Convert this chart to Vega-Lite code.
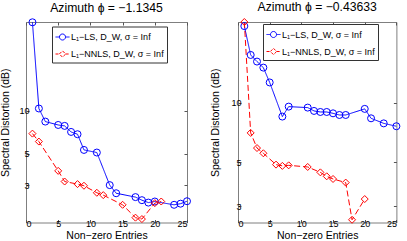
{
  "$schema": "https://vega.github.io/schema/vega-lite/v6.json",
  "autosize": {"type": "pad"},
  "padding": {"left": 0, "top": 0, "right": 0, "bottom": 0},
  "bounds": "flush",
  "spacing": 51,
  "config": {
    "font": "Liberation Sans",
    "view": {"stroke": "#7f7f7f", "strokeWidth": 1},
    "axis": {"grid": false, "domain": false, "tickColor": "#555", "tickSize": -3, "labelFontSize": 9, "labelColor": "#000", "titleFontSize": 10.5, "titleFontWeight": "normal", "titleColor": "#000", "labelPadding": 0},
    "title": {"fontSize": 12.2, "fontWeight": "normal", "color": "#000", "offset": 3},
    "legend": {"orient": "none", "title": null, "padding": 3, "strokeColor": "#333", "fillColor": "white", "symbolSize": 196, "symbolStrokeWidth": 1, "labelFontSize": 9, "labelOffset": 1, "rowPadding": 4, "symbolFillColor": "transparent"}
  },
  "datasets": {
    "left": [
      {"n": 1, "sd": 42.1, "s": "L₁−LS, D_W, σ = Inf"},
      {"n": 2, "sd": 10.4, "s": "L₁−LS, D_W, σ = Inf"},
      {"n": 3, "sd": 8.41, "s": "L₁−LS, D_W, σ = Inf"},
      {"n": 5, "sd": 7.96, "s": "L₁−LS, D_W, σ = Inf"},
      {"n": 6, "sd": 7.84, "s": "L₁−LS, D_W, σ = Inf"},
      {"n": 7, "sd": 7.11, "s": "L₁−LS, D_W, σ = Inf"},
      {"n": 8, "sd": 6.85, "s": "L₁−LS, D_W, σ = Inf"},
      {"n": 9, "sd": 5.31, "s": "L₁−LS, D_W, σ = Inf"},
      {"n": 11, "sd": 5.09, "s": "L₁−LS, D_W, σ = Inf"},
      {"n": 13, "sd": 3.0, "s": "L₁−LS, D_W, σ = Inf"},
      {"n": 14, "sd": 2.63, "s": "L₁−LS, D_W, σ = Inf"},
      {"n": 17, "sd": 2.47, "s": "L₁−LS, D_W, σ = Inf"},
      {"n": 18, "sd": 2.35, "s": "L₁−LS, D_W, σ = Inf"},
      {"n": 19, "sd": 2.26, "s": "L₁−LS, D_W, σ = Inf"},
      {"n": 20, "sd": 2.30, "s": "L₁−LS, D_W, σ = Inf"},
      {"n": 23, "sd": 2.18, "s": "L₁−LS, D_W, σ = Inf"},
      {"n": 24, "sd": 2.22, "s": "L₁−LS, D_W, σ = Inf"},
      {"n": 25, "sd": 2.31, "s": "L₁−LS, D_W, σ = Inf"},
      {"n": 1, "sd": 6.92, "s": "L₁−NNLS, D_W, σ = Inf"},
      {"n": 2, "sd": 6.08, "s": "L₁−NNLS, D_W, σ = Inf"},
      {"n": 5, "sd": 3.78, "s": "L₁−NNLS, D_W, σ = Inf"},
      {"n": 6, "sd": 3.18, "s": "L₁−NNLS, D_W, σ = Inf"},
      {"n": 8, "sd": 3.05, "s": "L₁−NNLS, D_W, σ = Inf"},
      {"n": 9, "sd": 2.97, "s": "L₁−NNLS, D_W, σ = Inf"},
      {"n": 11, "sd": 2.65, "s": "L₁−NNLS, D_W, σ = Inf"},
      {"n": 12, "sd": 2.55, "s": "L₁−NNLS, D_W, σ = Inf"},
      {"n": 15, "sd": 2.18, "s": "L₁−NNLS, D_W, σ = Inf"},
      {"n": 17, "sd": 1.77, "s": "L₁−NNLS, D_W, σ = Inf"},
      {"n": 18, "sd": 1.73, "s": "L₁−NNLS, D_W, σ = Inf"},
      {"n": 20, "sd": 2.24, "s": "L₁−NNLS, D_W, σ = Inf"},
      {"n": 21, "sd": 2.30, "s": "L₁−NNLS, D_W, σ = Inf"}
    ],
    "right": [
      {"n": 1, "sd": 24.5, "s": "L₁−LS, D_W, σ = Inf"},
      {"n": 2, "sd": 17.5, "s": "L₁−LS, D_W, σ = Inf"},
      {"n": 3, "sd": 16.2, "s": "L₁−LS, D_W, σ = Inf"},
      {"n": 4, "sd": 15.1, "s": "L₁−LS, D_W, σ = Inf"},
      {"n": 5, "sd": 12.7, "s": "L₁−LS, D_W, σ = Inf"},
      {"n": 7, "sd": 8.53, "s": "L₁−LS, D_W, σ = Inf"},
      {"n": 8, "sd": 9.58, "s": "L₁−LS, D_W, σ = Inf"},
      {"n": 11, "sd": 9.47, "s": "L₁−LS, D_W, σ = Inf"},
      {"n": 12, "sd": 9.11, "s": "L₁−LS, D_W, σ = Inf"},
      {"n": 13, "sd": 9.0, "s": "L₁−LS, D_W, σ = Inf"},
      {"n": 14, "sd": 9.0, "s": "L₁−LS, D_W, σ = Inf"},
      {"n": 15, "sd": 8.86, "s": "L₁−LS, D_W, σ = Inf"},
      {"n": 16, "sd": 8.69, "s": "L₁−LS, D_W, σ = Inf"},
      {"n": 17, "sd": 8.69, "s": "L₁−LS, D_W, σ = Inf"},
      {"n": 20, "sd": 9.33, "s": "L₁−LS, D_W, σ = Inf"},
      {"n": 21, "sd": 8.36, "s": "L₁−LS, D_W, σ = Inf"},
      {"n": 23, "sd": 7.88, "s": "L₁−LS, D_W, σ = Inf"},
      {"n": 25, "sd": 7.62, "s": "L₁−LS, D_W, σ = Inf"},
      {"n": 1, "sd": 25.7, "s": "L₁−NNLS, D_W, σ = Inf"},
      {"n": 2, "sd": 7.05, "s": "L₁−NNLS, D_W, σ = Inf"},
      {"n": 3, "sd": 5.91, "s": "L₁−NNLS, D_W, σ = Inf"},
      {"n": 4, "sd": 5.56, "s": "L₁−NNLS, D_W, σ = Inf"},
      {"n": 6, "sd": 4.87, "s": "L₁−NNLS, D_W, σ = Inf"},
      {"n": 7, "sd": 4.80, "s": "L₁−NNLS, D_W, σ = Inf"},
      {"n": 8, "sd": 4.83, "s": "L₁−NNLS, D_W, σ = Inf"},
      {"n": 11, "sd": 4.74, "s": "L₁−NNLS, D_W, σ = Inf"},
      {"n": 13, "sd": 4.45, "s": "L₁−NNLS, D_W, σ = Inf"},
      {"n": 14, "sd": 4.25, "s": "L₁−NNLS, D_W, σ = Inf"},
      {"n": 15, "sd": 4.12, "s": "L₁−NNLS, D_W, σ = Inf"},
      {"n": 17, "sd": 3.95, "s": "L₁−NNLS, D_W, σ = Inf"},
      {"n": 18, "sd": 2.56, "s": "L₁−NNLS, D_W, σ = Inf"},
      {"n": 20, "sd": 3.26, "s": "L₁−NNLS, D_W, σ = Inf"}
    ]
  },
  "resolve": {"scale": {"color": "independent"}, "legend": {"color": "independent"}},
  "hconcat": [
    {
      "title": "Azimuth ϕ = −1.1345",
      "width": 161,
      "height": 200.5,
      "data": {"name": "left"},
      "resolve": {"axis": {"x": "independent", "y": "independent"}},
      "layer": [
        {
          "mark": {"type": "line", "strokeWidth": 1},
          "encoding": {
            "x": {"field": "n", "type": "quantitative", "scale": {"domain": [0, 25], "nice": false}, "axis": {"values": [0, 5, 10, 15, 20, 25], "title": "Non−zero Entries", "titleY": 16.3, "titleBaseline": "alphabetic"}},
            "y": {"field": "sd", "type": "quantitative", "scale": {"type": "log", "domain": [1.636, 42.3], "nice": false}, "axis": {"values": [3, 5, 10], "title": "Spectral Distortion (dB)", "titleX": -17.3, "titleBaseline": "alphabetic"}},
            "color": {"field": "s", "type": "nominal", "scale": {"domain": ["L₁−LS, D_W, σ = Inf", "L₁−NNLS, D_W, σ = Inf"], "range": ["#0000ff", "#ff0000"]}, "legend": {"legendX": 26, "legendY": 4.5, "encode": {"symbols": {"update": {"shape": {"signal": "datum.index == 1 ? 'M-1,0H-0.45M0.45,0H1M-0.45,0L0,-0.45L0.45,0L0,0.45Z' : 'M-1,0H-0.43M0.43,0H1M-0.43,0A0.43,0.43,0,1,1,0.43,0A0.43,0.43,0,1,1,-0.43,0Z'"}, "strokeDash": {"signal": "datum.index == 1 ? [3,1.5] : [1,0]"}}}}}},
            "strokeDash": {"field": "s", "type": "nominal", "scale": {"domain": ["L₁−LS, D_W, σ = Inf", "L₁−NNLS, D_W, σ = Inf"], "range": [[1, 0], [6, 3]]}, "legend": null}
          }
        },
        {
          "mark": {"type": "point", "filled": false, "strokeWidth": 1, "size": 49, "opacity": 1},
          "encoding": {
            "x": {"field": "n", "type": "quantitative", "axis": null},
            "y": {"field": "sd", "type": "quantitative", "axis": null},
            "color": {"field": "s", "type": "nominal"},
            "shape": {"field": "s", "type": "nominal", "scale": {"domain": ["L₁−LS, D_W, σ = Inf", "L₁−NNLS, D_W, σ = Inf"], "range": ["circle", "diamond"]}, "legend": null}
          }
        },
        {
          "mark": {"type": "point", "opacity": 0},
          "encoding": {
            "x": {"field": "n", "type": "quantitative", "axis": {"orient": "top", "values": [0, 5, 10, 15, 20, 25], "labels": false, "title": null}},
            "y": {"field": "sd", "type": "quantitative", "axis": {"orient": "right", "values": [3, 5, 10], "labels": false, "title": null}}
          }
        }
      ]
    },
    {
      "title": "Azimuth ϕ = −0.43633",
      "width": 158.4,
      "height": 200.5,
      "data": {"name": "right"},
      "resolve": {"axis": {"x": "independent", "y": "independent"}},
      "layer": [
        {
          "mark": {"type": "line", "strokeWidth": 1},
          "encoding": {
            "x": {"field": "n", "type": "quantitative", "scale": {"domain": [0, 25], "nice": false}, "axis": {"values": [0, 5, 10, 15, 20, 25], "title": "Non−zero Entries", "titleY": 16.3, "titleBaseline": "alphabetic"}},
            "y": {"field": "sd", "type": "quantitative", "scale": {"type": "log", "domain": [2.48, 25.7], "nice": false}, "axis": {"values": [3, 5, 10], "title": "Spectral Distortion (dB)", "titleX": -19.8, "titleBaseline": "alphabetic"}},
            "color": {"field": "s", "type": "nominal", "scale": {"domain": ["L₁−LS, D_W, σ = Inf", "L₁−NNLS, D_W, σ = Inf"], "range": ["#0000ff", "#ff0000"]}, "legend": {"legendX": 25, "legendY": 2, "encode": {"symbols": {"update": {"shape": {"signal": "datum.index == 1 ? 'M-1,0H-0.45M0.45,0H1M-0.45,0L0,-0.45L0.45,0L0,0.45Z' : 'M-1,0H-0.43M0.43,0H1M-0.43,0A0.43,0.43,0,1,1,0.43,0A0.43,0.43,0,1,1,-0.43,0Z'"}, "strokeDash": {"signal": "datum.index == 1 ? [3,1.5] : [1,0]"}}}}}},
            "strokeDash": {"field": "s", "type": "nominal", "scale": {"domain": ["L₁−LS, D_W, σ = Inf", "L₁−NNLS, D_W, σ = Inf"], "range": [[1, 0], [6, 3]]}, "legend": null}
          }
        },
        {
          "mark": {"type": "point", "filled": false, "strokeWidth": 1, "size": 49, "opacity": 1},
          "encoding": {
            "x": {"field": "n", "type": "quantitative", "axis": null},
            "y": {"field": "sd", "type": "quantitative", "axis": null},
            "color": {"field": "s", "type": "nominal"},
            "shape": {"field": "s", "type": "nominal", "scale": {"domain": ["L₁−LS, D_W, σ = Inf", "L₁−NNLS, D_W, σ = Inf"], "range": ["circle", "diamond"]}, "legend": null}
          }
        },
        {
          "mark": {"type": "point", "opacity": 0},
          "encoding": {
            "x": {"field": "n", "type": "quantitative", "axis": {"orient": "top", "values": [0, 5, 10, 15, 20, 25], "labels": false, "title": null}},
            "y": {"field": "sd", "type": "quantitative", "axis": {"orient": "right", "values": [3, 5, 10], "labels": false, "title": null}}
          }
        }
      ]
    }
  ]
}
